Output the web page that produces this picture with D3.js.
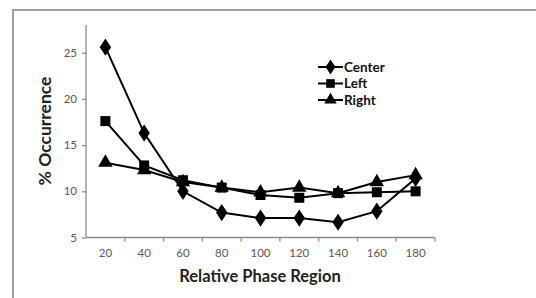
<!DOCTYPE html>
<html><head><meta charset="utf-8">
<script src="https://cdn.jsdelivr.net/npm/d3@7"></script>
<style>body{margin:0;background:#fff}svg{display:block}</style>
</head><body>
<svg id="c" width="536" height="298"></svg>
<script>
const categories = ["20","40","60","80","100","120","140","160","180"];
const center = [25.6, 16.3, 10.0, 7.7, 7.1, 7.1, 6.65, 7.85, 11.4];
const left   = [17.6, 12.8, 11.2, 10.4, 9.6, 9.3, 9.8, 9.9, 10.0];
const right  = [13.1, 12.3, 11.0, 10.4, 9.9, 10.4, 9.8, 11.0, 11.75];
const seriesNames = ["Center","Left","Right"];
const yTicks = [5,10,15,20,25];

const svg = d3.select("#c");
const font = "Lato, 'Open Sans', sans-serif";

// outer frame (clipped by page)
svg.append("path").attr("d","M13,298 V10 H536").attr("fill","none")
  .attr("stroke","#a0a0a0").attr("stroke-width",2);

const x = d3.scaleBand().domain(categories).range([86,435]);
const y = d3.scaleLinear().domain([5,28]).range([237.5,25]);

const yAxis = svg.append("g").attr("transform","translate(86,0)")
  .call(d3.axisLeft(y).tickValues(yTicks).tickSize(4).tickPadding(5));
yAxis.select(".domain").attr("d","M0,25V237.5");
const xAxis = svg.append("g").attr("transform","translate(0,237.5)")
  .call(d3.axisBottom(x).tickSize(0).tickPadding(11));
xAxis.select(".domain").attr("d","M86,0H435");
// boundary ticks between categories
xAxis.selectAll(".bt").data(categories).enter().append("line").attr("class","bt")
  .attr("x1",d=>x(d)+x.bandwidth()).attr("x2",d=>x(d)+x.bandwidth())
  .attr("y1",0).attr("y2",4);
svg.selectAll(".domain, .tick line, .bt").attr("stroke","#8c8c8c").attr("stroke-width",1.3);
svg.selectAll(".tick text").attr("fill","#595959").style("font-family",font).style("font-size","11.5px");

svg.append("text").attr("x",260).attr("y",282).attr("text-anchor","middle")
  .style("font-family",font).style("font-weight","bold").style("font-size","16.5px").attr("fill","#222")
  .text("Relative Phase Region");
svg.append("text").attr("transform","translate(51,131) rotate(-90)").attr("text-anchor","middle")
  .style("font-family",font).style("font-weight","bold").style("font-size","17.5px").attr("fill","#222")
  .text("% Occurrence");

const data = [center,left,right];
const shapes = [d3.symbolDiamond, d3.symbolSquare, d3.symbolTriangle];
const sizes = [85, 100, 90];
const cx = (i)=> x(categories[i]) + x.bandwidth()/2;
const line = d3.line().x((d,i)=>cx(i)).y(d=>y(d));

data.forEach((s,k)=>{
  svg.append("path").datum(s).attr("d",line).attr("fill","none").attr("stroke","#000").attr("stroke-width",2);
});
data.forEach((s,k)=>{
  svg.selectAll(".m"+k).data(s).enter().append("path")
    .attr("transform",(d,i)=>`translate(${cx(i)},${y(d)}) ${k===0?"scale(1.15,1)":""}`)
    .attr("d",d3.symbol().type(shapes[k]).size(sizes[k])).attr("fill","#000");
});

// legend
const lg = svg.append("g");
seriesNames.forEach((n,k)=>{
  const yy = 67 + k*16.5;
  lg.append("line").attr("x1",318).attr("x2",343).attr("y1",yy).attr("y2",yy).attr("stroke","#000").attr("stroke-width",2);
  lg.append("path").attr("transform",`translate(330.5,${yy}) ${k===0?"scale(1.15,1)":""}`)
    .attr("d",d3.symbol().type(shapes[k]).size(sizes[k]*0.75)).attr("fill","#000");
  lg.append("text").attr("x",344).attr("y",yy+4.5).text(n)
    .style("font-family",font).style("font-weight","bold").style("font-size","13.5px").attr("fill","#111");
});
</script>
</body></html>
